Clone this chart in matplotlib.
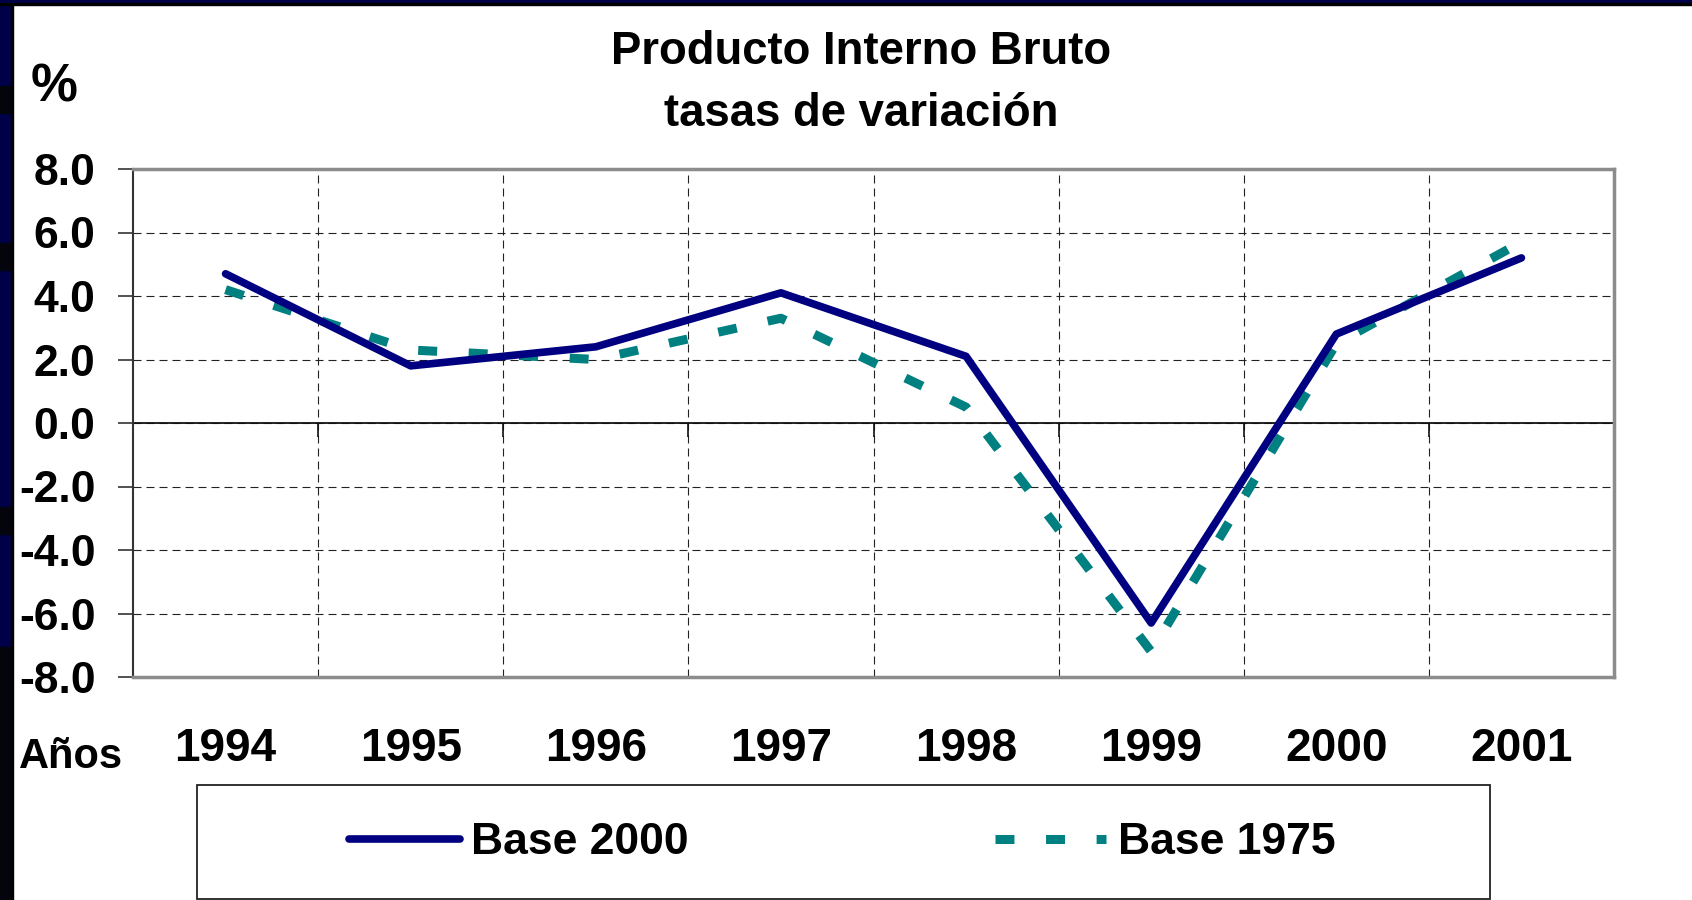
import numpy as np
import matplotlib
matplotlib.use("Agg")
import matplotlib.pyplot as plt
from matplotlib.patches import Rectangle
from matplotlib.lines import Line2D

plt.rcParams['font.family'] = ['Liberation Sans', 'DejaVu Sans']
plt.rcParams['font.weight'] = 'bold'

years = ['1994', '1995', '1996', '1997', '1998', '1999', '2000', '2001']
base_2000 = [4.7, 1.8, 2.4, 4.1, 2.1, -6.3, 2.8, 5.2]
base_1975 = [4.2, 2.3, 2.0, 3.3, 0.5, -7.2, 2.5, 5.7]
y_ticks = [-8.0, -6.0, -4.0, -2.0, 0.0, 2.0, 4.0, 6.0, 8.0]

NAVY = '#000080'
TEAL = '#008080'

fig = plt.figure(figsize=(16.92, 9), dpi=100)
W, H = 1692.0, 900.0

# slide background strips (left + top)
fig.patches.append(Rectangle((0, 0), 11 / W, 1, transform=fig.transFigure,
                             color='#000048', zorder=0))
for y0, y1 in [(86, 113), (243, 270), (507, 534), (647, 900)]:
    fig.patches.append(Rectangle((0, 1 - y1 / H), 11 / W, (y1 - y0) / H,
                                 transform=fig.transFigure, color='#04040c', zorder=0))
fig.patches.append(Rectangle((11 / W, 0), 1.5 / W, 1, transform=fig.transFigure,
                             color='black', zorder=0))
fig.patches.append(Rectangle((0, 1 - 3 / H), 1, 3 / H, transform=fig.transFigure,
                             color='#000048', zorder=0))
fig.patches.append(Rectangle((0, 1 - 5 / H), 1, 2 / H, transform=fig.transFigure,
                             color='black', zorder=0))

ax = fig.add_axes([133 / W, 1 - 677 / H, (1614 - 133) / W, (677 - 169) / H])
x = np.arange(len(years))
bounds = x[:-1] + 0.5

ax.plot(x, base_1975, color=TEAL, lw=6.5, linestyle=(0, (2.1, 3.5)),
        dash_capstyle='butt', zorder=3)
ax.plot(x, base_2000, color=NAVY, lw=5.5, solid_capstyle='round', zorder=4)

ax.set_xlim(-0.5, len(years) - 0.5)
ax.set_ylim(-8, 8)
ax.set_yticks(y_ticks)
ax.set_yticklabels(['%.1f' % v for v in y_ticks])
ax.set_xticks(x)
ax.set_xticklabels(years)
ax.set_xticks(bounds, minor=True)

ax.grid(True, which='major', axis='y', color='#222222', lw=0.8, linestyle=(0, (7.2, 4.5)))
ax.grid(True, which='minor', axis='x', color='#222222', lw=0.8, linestyle=(0, (7.2, 4.5)))
ax.set_axisbelow(True)

# category axis line at zero with its tick marks
ax.axhline(0, color='#111111', lw=1.3, zorder=2)
ax.plot(bounds, np.zeros(len(bounds)), linestyle='none', marker=3, ms=10,
        mew=1.2, color='#111111', zorder=2)

ax.tick_params(axis='y', which='major', length=11, width=1.2, color='#333333',
               pad=16, labelsize=32)
ax.tick_params(axis='x', which='both', length=0, pad=36, labelsize=33)
for lab in ax.get_xticklabels() + ax.get_yticklabels():
    lab.set_fontweight('bold')

for side in ['top', 'right', 'bottom']:
    ax.spines[side].set_color('#8c8c8c')
    ax.spines[side].set_linewidth(2.5)
ax.spines['left'].set_color('#333333')
ax.spines['left'].set_linewidth(1.5)

fig.text(861 / W, 1 - 64 / H, 'Producto Interno Bruto', ha='center', va='baseline',
         fontsize=32.8, fontweight='bold')
fig.text(861 / W, 1 - 126 / H, 'tasas de variación', ha='center', va='baseline',
         fontsize=32.8, fontweight='bold')
fig.text(31 / W, 1 - 102 / H, '%', ha='left', va='baseline', fontsize=38, fontweight='bold')
fig.text(19 / W, 1 - 768 / H, 'Años', ha='left', va='baseline', fontsize=30, fontweight='bold')

# legend box
fig.patches.append(Rectangle((197 / W, 1 - 899 / H), (1490 - 197) / W, (899 - 785) / H,
                             transform=fig.transFigure, facecolor='white',
                             edgecolor='#222222', lw=1.3, zorder=1))
handles = [Line2D([], [], color=NAVY, lw=5.5, solid_capstyle='round'),
           Line2D([], [], color=TEAL, lw=6.5, linestyle=(0, (2.1, 3.5)), dash_capstyle='butt')]
fig.legend(handles, ['Base 2000', 'Base 1975'], loc='center',
           bbox_to_anchor=(842 / W, 1 - 843 / H), ncol=2, frameon=False,
           prop={'size': 32, 'weight': 'bold'}, handlelength=2.5,
           handletextpad=0.25, columnspacing=6.9)

fig.savefig('out.png', dpi=100, facecolor='white')
